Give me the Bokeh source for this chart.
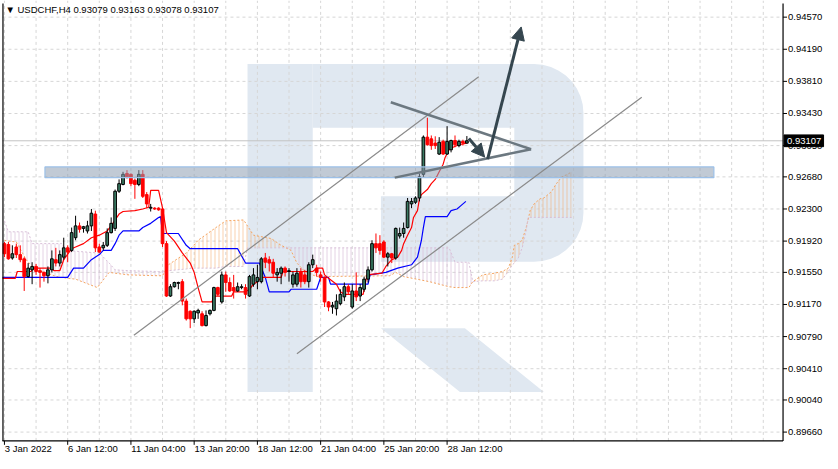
import numpy as np
from bokeh.plotting import figure
from bokeh.models import Range1d, Arrow, NormalHead, ColumnDataSource
from bokeh.core.properties import value
from bokeh.embed import file_html
from bokeh.resources import INLINE

# ---------------- data (USDCHF H4) ----------------
bar_index = list(range(118))
opens = [.9189, .9188, .9172, .9185, .9176, .9171, .9150, .9158, .9162, .9157,
         .9155, .9151, .9158, .9170, .9166, .9173, .9184, .9181, .9196, .9210,
         .9207, .9204, .9210, .9224, .9185, .9184, .9187, .9202, .9207, .9251,
         .9259, .9272, .9271, .9264, .9259, .9271, .9247, .9231, .9231, .9231,
         .9230, .9189, .9127, .9138, .9142, .9144, .9121, .9109, .9100, .9107,
         .9106, .9092, .9106, .9110, .9137, .9120, .9152, .9143, .9137, .9133,
         .9137, .9137, .9127, .9141, .9144, .9144, .9172, .9170, .9167, .9152,
         .9154, .9160, .9156, .9141, .9141, .9156, .9152, .9144, .9164, .9160,
         .9152, .9149, .9120, .9114, .9112, .9118, .9126, .9138, .9114, .9133,
         .9127, .9135, .9147, .9158, .9189, .9189, .9191, .9173, .9177, .9172,
         .9198, .9201, .9208, .9236, .9238, .9243, .9271, .9315, .9313, .9308,
         .9295, .9310, .9295, .9300, .9311, .9305, .9310, .93079]
highs = [.9191, .9191, .9187, .9189, .9187, .9173, .9166, .9167, .9165, .9160,
         .9156, .9162, .9181, .9184, .9181, .9196, .9187, .9208, .9222, .9214,
         .9210, .9216, .9230, .9228, .9189, .9191, .9207, .9220, .9253, .9265,
         .9274, .9276, .9272, .9266, .9276, .9276, .9250, .9236, .9232, .9232,
         .9231, .9192, .9141, .9144, .9144, .9147, .9124, .9110, .9110, .9112,
         .9109, .9110, .9111, .9138, .9138, .9156, .9156, .9149, .9152, .9143,
         .9141, .9141, .9152, .9160, .9164, .9173, .9178, .9174, .9171, .9160,
         .9162, .9162, .9160, .9156, .9160, .9160, .9158, .9167, .9176, .9164,
         .9156, .9150, .9121, .9120, .9129, .9135, .9143, .9141, .9141, .9155,
         .9141, .9150, .9162, .9193, .9201, .9199, .9193, .9179, .9178, .9208,
         .9208, .9214, .9243, .9243, .9245, .9272, .9317, .9338, .9317, .9316,
         .9315, .9312, .9328, .9312, .9317, .9312, .9312, .93163]
lows = [.9173, .9170, .9170, .9172, .9167, .9133, .9149, .9141, .9152, .9137,
        .9144, .9142, .9155, .9162, .9162, .9170, .9167, .9179, .9193, .9202,
        .9202, .9201, .9204, .9179, .9178, .9181, .9185, .9201, .9204, .9249,
        .9258, .9266, .9257, .9242, .9257, .9243, .9231, .9227, .9229, .9228,
        .9185, .9126, .9126, .9137, .9135, .9116, .9098, .9089, .9095, .9100,
        .9091, .9091, .9104, .9109, .9127, .9118, .9132, .9132, .9124, .9132,
        .9135, .9124, .9126, .9138, .9135, .9142, .9160, .9156, .9149, .9144,
        .9141, .9150, .9144, .9137, .9138, .9137, .9141, .9137, .9160, .9150,
        .9144, .9114, .9109, .9106, .9104, .9116, .9121, .9129, .9112, .9121,
        .9121, .9132, .9143, .9156, .9178, .9176, .9172, .9162, .9166, .9170,
        .9195, .9196, .9207, .9231, .9236, .9239, .9268, .9305, .9300, .9301,
        .9294, .9294, .9294, .9297, .9303, .9303, .9305, .93078]
closes = [.9177, .9171, .9177, .9176, .9170, .9150, .9160, .9162, .9156, .9155,
          .9151, .9158, .9171, .9166, .9176, .9184, .9179, .9202, .9210, .9206,
          .9209, .9210, .9225, .9184, .9179, .9187, .9202, .9213, .9251, .9260,
          .9271, .9268, .9260, .9259, .9271, .9245, .9236, .9232, .9230, .9229,
          .9189, .9127, .9138, .9143, .9143, .9121, .9100, .9100, .9109, .9110,
          .9092, .9104, .9110, .9137, .9129, .9152, .9143, .9133, .9133, .9138,
          .9138, .9129, .9150, .9152, .9149, .9171, .9167, .9166, .9154, .9155,
          .9160, .9155, .9157, .9152, .9154, .9144, .9144, .9164, .9170, .9155,
          .9149, .9120, .9114, .9116, .9121, .9129, .9138, .9132, .9133, .9126,
          .9137, .9147, .9158, .9189, .9184, .9181, .9173, .9177, .9172, .9207,
          .9201, .9207, .9239, .9239, .9243, .9268, .9315, .9306, .9305, .9305,
          .9309, .9295, .9310, .9311, .9306, .9310, .9308, .93107]

tick_bars = [0, 16, 32, 48, 64, 80, 96, 112]
tick_labels = ["3 Jan 2022", "6 Jan 12:00", "11 Jan 04:00", "13 Jan 20:00",
               "18 Jan 12:00", "21 Jan 04:00", "25 Jan 20:00", "28 Jan 12:00"]
grid_bars = list(range(0, 193, 8))
price_ticks = [0.94570, 0.94190, 0.93810, 0.93430, 0.93050, 0.92680, 0.92300,
               0.91920, 0.91550, 0.91170, 0.90790, 0.90410, 0.90040, 0.89660]
last_price = 0.93107
title_text = "\u25bc USDCHF,H4  0.93079 0.93163 0.93078 0.93107"

# Ichimoku
tenkan_x = [-0.5, 2.75, 3.25, 6.75, 7.25, 12, 12.5, 14, 15, 17, 18, 20, 22, 24, 26, 27, 28, 29, 30,
            33, 35, 36.5, 37, 39, 40, 41, 43, 45, 47, 48, 49, 50, 52.5, 53, 57.5, 58, 61, 62, 63,
            64, 65, 70, 70.5, 78, 79, 80.5, 81, 82, 84, 85, 86, 90.75, 91.75, 95.5, 96.5, 98, 99.5,
            100.5, 101, 102, 103, 103.5, 104.5, 105, 105.5, 107, 108, 109, 110, 111, 111.5, 112.5,
            113.5, 115, 117]
tenkan_y = [.9148, .9148, .9156, .9156, .9160, .9160, .9157, .9157, .9170, .9183, .9185, .9189, .9196,
            .9199, .9204, .9210, .9217, .9224, .9227, .9228, .9230, .9232, .9252, .9252, .9231, .9202,
            .9192, .9178, .9166, .9155, .9137, .9120, .9120, .9127, .9127, .9132, .9132, .9135, .9141,
            .9144, .9149, .9149, .9156, .9156, .9160, .9160, .9152, .9148, .9141, .9132, .9129, .9129,
            .9152, .9154, .9162, .9170, .9173, .9181, .9189, .9199, .9208, .9220, .9228, .9242, .9247,
            .9253, .9260, .9265, .9274, .9283, .9291, .9300, .9303, .9306, .9308]
kijun_x = [-0.5, 16, 17.5, 20, 22, 24, 25, 27, 28, 29, 30, 34, 35, 37, 39, 39.5, 40, 44, 46, 47,
           59, 61, 64.5, 66, 67, 72, 72.5, 79, 80, 82, 82.5, 92, 92.5, 96.5, 99.5, 103, 104.5,
           105.5, 106, 106.5, 112, 113, 114.5, 115.5, 116.75]
kijun_y = [.9149, .9149, .9160, .9160, .9170, .9176, .9181, .9181, .9189, .9199, .9204, .9204, .9208,
           .9213, .9220, .9221, .9201, .9201, .9187, .9183, .9183, .9166, .9166, .9149, .9132, .9132,
           .9135, .9135, .9149, .9149, .9141, .9141, .9152, .9155, .9160, .9164, .9173, .9193, .9208,
           .9221, .9221, .9228, .9230, .9234, .9239]
cloud_x = [0, 1, 3, 5.5, 6, 7, 8, 14, 14.5, 16, 18, 23.5, 24, 26.5, 28, 31.5, 39, 40, 41.5, 46,
           47.5, 49, 53.5, 56, 60.5, 61.5, 63, 67.5, 70, 72.5, 74, 76, 79, 97.5, 99, 101, 107.5,
           112.5, 114, 117.5, 118.5, 121, 124, 126, 127.5, 128.5, 129, 130, 131, 132, 132.5, 133,
           134, 135.5, 136.5, 138.5, 139.5, 141, 142.5, 143.5]
span_a = [.9193, .9192, .9191, .9170, .9167, .9163, .9158, .9149, .9149, .9148,
          .9147, .9137, .9140, .9155, .9154, .9152, .9151, .9151, .9164, .9178,
          .9185, .9193, .9208, .9216, .9217, .9210, .9199, .9195, .9187, .9181,
          .9166, .9156, .9150, .9151, .9155, .9150, .9144, .9138, .9137, .9137,
          .9144, .9152, .9154, .9156, .9160, .9173, .9187, .9189, .9193, .9208,
          .9217, .9228, .9236, .9242, .9243, .9251, .9259, .9268, .9271, .9274]
span_b = [.9216, .9203, .9203, .9203, .9203, .9189, .9189, .9189, .9189, .9181,
          .9180, .9178, .9178, .9166, .9158, .9157, .9156, .9156, .9157, .9159,
          .9160, .9160, .9160, .9162, .9162, .9184, .9184, .9184, .9184, .9184,
          .9184, .9184, .9184, .9184, .9184, .9184, .9184, .9184, .9167, .9167,
          .9144, .9145, .9145, .9147, .9156, .9164, .9166, .9172, .9184, .9204,
          .9220, .9220, .9220, .9220, .9220, .9220, .9220, .9220, .9220, .9220]

# analysis objects (bar index / price anchors)
channel_upper = ([32.75, 120.0], [0.90806, 0.93864])
channel_lower = ([74.0, 161.25], [0.90586, 0.93621])
triangle_upper = ([97.75, 133.25], [0.93563, 0.93007])
triangle_lower = ([98.75, 133.25], [0.92671, 0.93007])
arrow_small = (117.5, 0.93134, 121.5, 0.92914)
arrow_big = (122.25, 0.92891, 130.75, 0.94454)
zone = (10.25, 179.5, 0.92671, 0.92798)

# ---------------- layout constants ----------------
PX_BAR = 4.0            # reference pixels per bar
PX_PRICE = 8635.0       # reference pixels per price unit
TOP_PRICE = 0.94767     # price at the top edge of the picture
def lx(px):             # reference pixel x -> bar units
    return (px - 4) / PX_BAR
def ly(py):             # reference pixel y -> price units
    return TOP_PRICE - py / PX_PRICE

L, R = lx(2), lx(792)       # chart area (inside the axes)
B, T = ly(450), ly(0)
FONT = "Liberation Sans"

p = figure(frame_width=828, frame_height=459,
           x_range=Range1d(lx(0), lx(838)), y_range=Range1d(ly(469), ly(0)),
           output_backend="svg", toolbar_location=None, x_axis_location=None, y_axis_location=None,
           min_border=0, background_fill_color="white", border_fill_color="white",
           outline_line_color=None)
p.grid.visible = False

# watermark logo (decorative)
logo_col = "#e0e8f1"
stem = [(250, 65), (316, 65), (316, 400), (250, 400)]
bowl = [(316, 65), (540, 65)]
for a in np.linspace(90, 0, 10):
    bowl.append((540 + 50 * np.cos(np.radians(a)), 115 - 50 * np.sin(np.radians(a))))
for a in np.linspace(0, -90, 10):
    bowl.append((540 + 50 * np.cos(np.radians(a)), 217 - 50 * np.sin(np.radians(a))))
bowl += [(385, 267), (385, 200), (520, 200), (520, 130), (316, 130)]
leg = [(385, 335), (470, 335), (550, 400), (465, 400)]
for shape in (stem, bowl, leg):
    p.patch([lx(a) for a, b in shape], [ly(b) for a, b in shape], fill_color=logo_col,
            line_color=None)

# grid
grid_col = "#d6d6d6"
p.segment(x0=grid_bars, y0=[B] * len(grid_bars), x1=grid_bars, y1=[T] * len(grid_bars),
          line_color=grid_col, line_dash="3 3", line_width=1)
p.segment(x0=[L] * len(price_ticks), y0=price_ticks, x1=[R] * len(price_ticks), y1=price_ticks,
          line_color=grid_col, line_dash="3 3", line_width=1)

# cloud
a_arr = np.array(span_a)
b_arr = np.array(span_b)
top_arr = np.maximum(a_arr, b_arr)
p.varea(x=cloud_x, y1=b_arr, y2=top_arr, fill_color=None, hatch_pattern="|",
        hatch_color="#F4A460", hatch_scale=4, hatch_weight=1, hatch_alpha=0.5)
p.varea(x=cloud_x, y1=a_arr, y2=top_arr, fill_color=None, hatch_pattern="|",
        hatch_color="#D8BFD8", hatch_scale=4, hatch_weight=1, hatch_alpha=0.7)
p.line(cloud_x, span_a, line_color="#F4A460", line_dash="2 2", line_width=1)
p.line(cloud_x, span_b, line_color="#D8BFD8", line_dash="2 2", line_width=1)

# current price line
p.segment(x0=[L], y0=[last_price], x1=[R], y1=[last_price], line_color="#c4c4c4", line_width=1)

# ichimoku lines
p.line(kijun_x, kijun_y, line_color="#0000ff", line_width=1.2)
p.line(tenkan_x, tenkan_y, line_color="#ff0000", line_width=1.2)

# candles
up = [c >= o for o, c in zip(opens, closes)]
src = ColumnDataSource(dict(
    x=bar_index, high=highs, low=lows,
    top=[max(o, c) for o, c in zip(opens, closes)],
    bottom=[min(o, c) for o, c in zip(opens, closes)],
    fill=["#3a7a63" if u else "#ff0000" for u in up],
    edge=["#000000" if u else "#ff0000" for u in up],
))
p.segment(x0="x", y0="low", x1="x", y1="high", line_color="edge", line_width=1, source=src)
p.vbar(x="x", width=0.68, top="top", bottom="bottom", fill_color="fill", line_color="edge",
       line_width=1, source=src)

# translucent zone
p.quad(left=[zone[0]], right=[zone[1]], bottom=[zone[2]], top=[zone[3]],
       fill_color="#8e9fb3", fill_alpha=0.55, line_color="#9cc0e8", line_width=1.2)

# channel / triangle lines
p.line(*channel_upper, line_color="#8a8a8a", line_width=1.2)
p.line(*channel_lower, line_color="#8a8a8a", line_width=1.2)
p.line(*triangle_upper, line_color="#6c7880", line_width=2.5)
p.line(*triangle_lower, line_color="#6c7880", line_width=2.5)

arrow_col = "#35464f"
for (xs, ys, xe, ye) in (arrow_small, arrow_big):
    p.add_layout(Arrow(x_start=xs, y_start=ys, x_end=xe, y_end=ye, line_color=arrow_col,
                       line_width=3,
                       end=NormalHead(size=13, fill_color=arrow_col, line_color=arrow_col)))

# frame lines (left border, right and bottom axes)
p.segment(x0=[lx(2.5), R, L], y0=[B, B, B], x1=[lx(2.5), R, R], y1=[ly(3), ly(3), B],
          line_color="black", line_width=1.2)

# right price axis
tick_len_x = 4 / PX_BAR
p.segment(x0=[R] * len(price_ticks), y0=price_ticks, x1=[R + tick_len_x] * len(price_ticks),
          y1=price_ticks, line_color="black", line_width=1)
p.text(x=[lx(797)] * len(price_ticks), y=price_ticks, text=["%.5f" % v for v in price_ticks],
       text_font=value(FONT), text_font_size=value("9.5px"), text_color="black",
       text_align="left", text_baseline="middle")

# bottom time axis
tick_len_y = 4 / PX_PRICE
p.segment(x0=tick_bars, y0=[B] * len(tick_bars), x1=tick_bars, y1=[B - tick_len_y] * len(tick_bars),
          line_color="black", line_width=1)
p.text(x=[t + 0.1 for t in tick_bars], y=[ly(452)] * len(tick_bars), text=tick_labels,
       text_font=value(FONT), text_font_size=value("9.5px"), text_color="black",
       text_align="left", text_baseline="top")

# price tag on the axis
half = 6 / PX_PRICE
p.quad(left=[lx(793)], right=[lx(833)], bottom=[last_price - half], top=[last_price + half],
       fill_color="black", line_color="black")
p.text(x=[lx(796)], y=[last_price], text=["%.5f" % last_price], text_font=value(FONT),
       text_font_size=value("9.5px"), text_color="white", text_align="left",
       text_baseline="middle")

# title
p.text(x=[lx(5)], y=[ly(4)], text=[title_text], text_font=value(FONT),
       text_font_size=value("9.5px"), text_color="black", text_align="left", text_baseline="top")

open("out.html", "w").write(file_html(p, INLINE))
